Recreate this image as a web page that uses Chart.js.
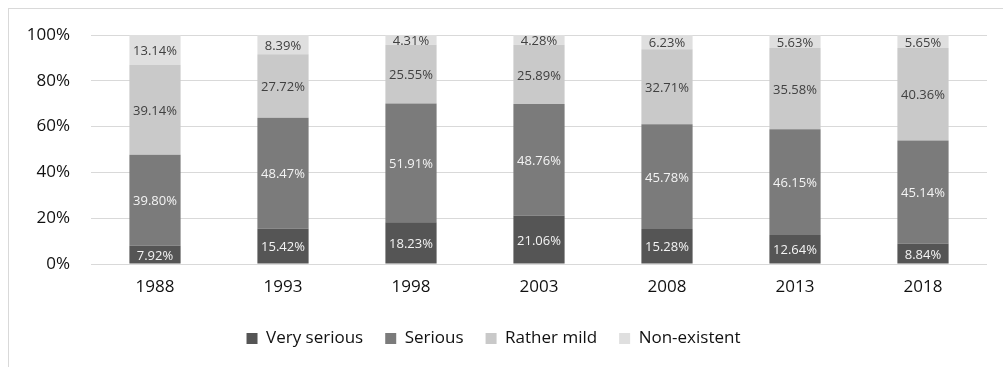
<!DOCTYPE html>
<html>
<head>
<meta charset="utf-8">
<script src="https://cdn.jsdelivr.net/npm/chart.js@4/dist/chart.umd.min.js"></script>
<style>
  html, body { margin: 0; padding: 0; background: #fff; }
  #wrap { position: relative; width: 1003px; height: 367px; overflow: hidden; }
  #frame { position: absolute; left: 8px; top: 8px; right: -2px; bottom: -2px;
           border-left: 1px solid #d9d9d9; border-top: 1px solid #d9d9d9; }
  canvas { position: absolute; left: 0; top: 0; }
</style>
</head>
<body>
<div id="wrap">
  <div id="frame"></div>
  <canvas id="chart" width="1003" height="367"></canvas>
</div>
<script>
// Survey years and the share (%) of answers in each category
const years = ['1988', '1993', '1998', '2003', '2008', '2013', '2018'];
const verySerious = [7.92, 15.42, 18.23, 21.06, 15.28, 12.64, 8.84];
const serious = [39.80, 48.47, 51.91, 48.76, 45.78, 46.15, 45.14];
const ratherMild = [39.14, 27.72, 25.55, 25.89, 32.71, 35.58, 40.36];
const nonExistent = [13.14, 8.39, 4.31, 4.28, 6.23, 5.63, 5.65];
const yTicks = [0, 20, 40, 60, 80, 100];

const FONT = '"Open Sans", "Noto Sans", sans-serif';

// Writes each segment's percentage in the middle of the segment
const valueLabels = {
  id: 'valueLabels',
  afterDatasetsDraw(chart) {
    const ctx = chart.ctx;
    ctx.save();
    ctx.font = '13px ' + FONT;
    ctx.textAlign = 'center';
    ctx.textBaseline = 'middle';
    chart.data.datasets.forEach((ds, i) => {
      const meta = chart.getDatasetMeta(i);
      meta.data.forEach((bar, j) => {
        ctx.fillStyle = ds.labelColor;
        ctx.fillText(ds.data[j].toFixed(2) + '%', bar.x, (bar.y + bar.base) / 2 + 1.5);
      });
    });
    ctx.restore();
  }
};

new Chart(document.getElementById('chart'), {
  type: 'bar',
  data: {
    labels: years,
    datasets: [
      { label: 'Very serious', data: verySerious, backgroundColor: '#555555', labelColor: '#f4f4f4' },
      { label: 'Serious', data: serious, backgroundColor: '#7b7b7b', labelColor: '#f4f4f4' },
      { label: 'Rather mild', data: ratherMild, backgroundColor: '#c9c9c9', labelColor: '#404040' },
      { label: 'Non-existent', data: nonExistent, backgroundColor: '#dfdfdf', labelColor: '#404040' }
    ]
  },
  options: {
    responsive: false,
    devicePixelRatio: 1,
    animation: false,
    barPercentage: 0.4,
    categoryPercentage: 1.0,
    layout: { padding: { left: 0, right: 16, top: 35, bottom: 10 } },
    plugins: {
      tooltip: { enabled: false },
      legend: {
        position: 'bottom',
        labels: {
          font: { family: FONT, size: 17 },
          color: '#111111',
          boxWidth: 11,
          boxHeight: 11,
          padding: 22
        }
      }
    },
    scales: {
      x: {
        stacked: true,
        grid: { display: false },
        border: { display: false },
        ticks: { font: { family: FONT, size: 17 }, color: '#111111', padding: 5 },
        afterFit(scale) { scale.height = 44; }
      },
      y: {
        stacked: true,
        min: 0,
        max: 100,
        grid: { color: '#d9d9d9', lineWidth: 1, drawTicks: false },
        border: { display: false },
        afterBuildTicks(scale) { scale.ticks = yTicks.map(v => ({ value: v })); },
        ticks: {
          font: { family: FONT, size: 17 },
          color: '#111111',
          padding: 21,
          callback: v => v + '%'
        },
        afterFit(scale) { scale.width = 91; }
      }
    }
  },
  plugins: [valueLabels]
});
</script>
</body>
</html>
